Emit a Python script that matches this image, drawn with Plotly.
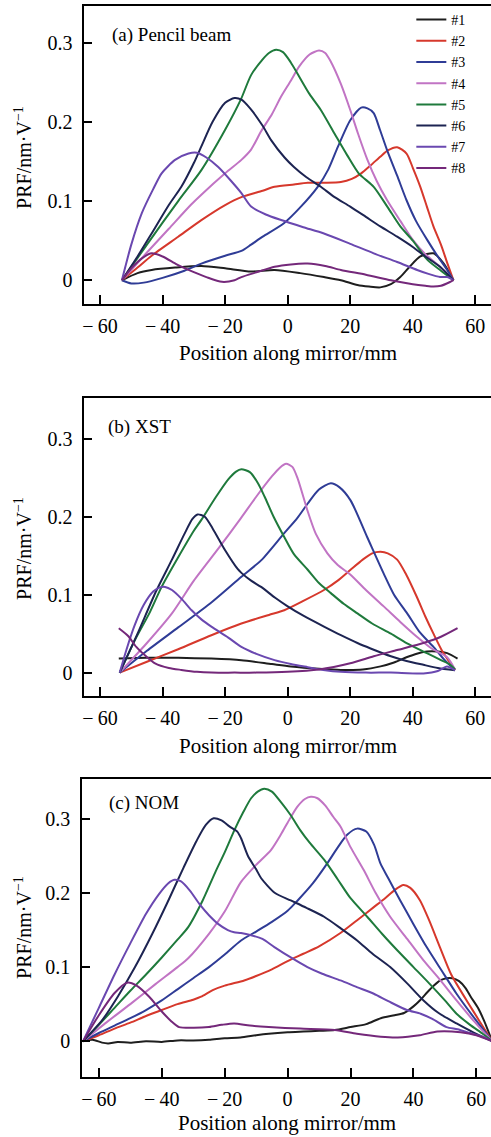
import plotly.graph_objects as go

W, H = 491, 1137

NAMES = ["#1", "#2", "#3", "#4", "#5", "#6", "#7", "#8"]
COLORS = ["#1e1e1e", "#d6382c", "#2f3c96", "#c174c4", "#1f7a3c", "#1d2452", "#6a48b0", "#74287a"]

X_TICKS = [-60, -40, -20, 0, 20, 40, 60]
X_TICKTEXT = ["\u2212\u200960", "\u2212\u200940", "\u2212\u200920", "0", "20", "40", "60"]
Y_TICKS = [0, 0.1, 0.2, 0.3]
Y_TICKTEXT = ["0", "0.1", "0.2", "0.3"]

PANEL_TITLES = ["(a) Pencil beam", "(b) XST", "(c) NOM"]
X_TITLE = "Position along mirror/mm"
Y_TITLE = "PRF/nm\u00b7V<sup>\u22121</sup>"

# ---------------- Panel (a) Pencil beam ----------------
A1_X = [-53, -48, -43.5, -36, -27.6, -20, -11.7, -4.2, 4, 11.6, 17, 22.3, 26, 29.6, 33, 36, 39, 42.4, 46.6, 49.9, 53]
A1_Y = [0, 0.009, 0.013, 0.016, 0.018, 0.015, 0.011, 0.013, 0.009, 0.004, 0.0, -0.006, -0.008, -0.009, -0.005, 0.004, 0.017, 0.03, 0.034, 0.021, 0]
A2_X = [-53, -48, -43.5, -35, -27.6, -20, -14.8, -8, -4.2, 2, 6.4, 12, 17, 20.5, 23.5, 26.5, 29.6, 32, 35, 38, 40, 42.4, 44.5, 46.6, 49, 51, 53]
A2_Y = [0, 0.016, 0.031, 0.055, 0.076, 0.095, 0.105, 0.113, 0.118, 0.121, 0.123, 0.123, 0.124, 0.128, 0.135, 0.145, 0.156, 0.164, 0.168, 0.16, 0.142, 0.118, 0.093, 0.068, 0.045, 0.022, 0]
A3_X = [-53, -50, -46, -40, -33, -27.6, -20, -14.8, -11.7, -8, -1.2, 4, 9.6, 13, 16, 20, 23.5, 25.5, 27.5, 29.5, 31.8, 35, 38, 41, 44.6, 48, 51, 53]
A3_Y = [0, -0.004, -0.003, 0.003, 0.012, 0.021, 0.031, 0.037, 0.045, 0.055, 0.072, 0.092, 0.118, 0.14, 0.168, 0.202, 0.218, 0.217, 0.211, 0.19, 0.164, 0.132, 0.101, 0.075, 0.051, 0.03, 0.013, 0]
A4_X = [-53, -45, -38, -31, -27.6, -20, -14.8, -11.7, -8.5, -5, -2.1, 1, 3.7, 7, 10, 12, 13.8, 17, 20, 22.5, 25.5, 28.5, 31.8, 36, 40, 44, 48.7, 53]
A4_Y = [0, 0.035, 0.065, 0.095, 0.108, 0.135, 0.152, 0.165, 0.188, 0.21, 0.232, 0.252, 0.27, 0.285, 0.29, 0.287, 0.276, 0.248, 0.215, 0.185, 0.152, 0.125, 0.101, 0.075, 0.051, 0.033, 0.017, 0]
A5_X = [-53, -45, -35, -27.6, -20, -15, -11.7, -8, -6, -3.7, -1.5, 1, 3.7, 7, 10.6, 15, 19, 22.7, 27.5, 32, 36, 40, 44.6, 49, 53]
A5_Y = [0, 0.045, 0.1, 0.139, 0.19, 0.228, 0.259, 0.279, 0.287, 0.291, 0.288, 0.275, 0.257, 0.235, 0.215, 0.185, 0.158, 0.135, 0.118, 0.092, 0.068, 0.05, 0.026, 0.012, 0]
A6_X = [-53, -48, -43.5, -38, -34, -30, -27.6, -24, -20, -17, -14.8, -12, -8, -5.3, -1, 2, 6, 10.6, 15, 20, 25, 29.6, 35, 40, 44, 48.7, 53]
A6_Y = [0, 0.03, 0.059, 0.095, 0.118, 0.148, 0.169, 0.2, 0.224, 0.23, 0.228, 0.217, 0.195, 0.177, 0.155, 0.143, 0.13, 0.118, 0.105, 0.093, 0.08, 0.068, 0.055, 0.042, 0.03, 0.017, 0]
A7_X = [-53, -50, -46.6, -43, -40.3, -36, -31.7, -29, -26, -22.2, -18, -14.8, -11.7, -7, -2.1, 5, 11.6, 20, 27.5, 35, 41.4, 45, 48.7, 51, 53]
A7_Y = [0, 0.045, 0.085, 0.115, 0.135, 0.152, 0.16, 0.161, 0.155, 0.143, 0.125, 0.11, 0.093, 0.083, 0.076, 0.067, 0.059, 0.046, 0.034, 0.023, 0.013, 0.008, 0.004, 0.004, 0]
A8_X = [-53, -50, -46.5, -43.5, -40, -35.5, -31.7, -26, -21, -17, -14.8, -10, -4.2, 1, 6.4, 12, 17, 25, 33, 40, 44, 46.6, 49, 52, 53]
A8_Y = [0, 0.015, 0.028, 0.034, 0.03, 0.02, 0.013, 0.004, -0.002, 0.0, 0.004, 0.01, 0.017, 0.02, 0.021, 0.018, 0.013, 0.007, 0.0, -0.005, -0.007, -0.008, -0.007, -0.002, 0]

# ---------------- Panel (b) XST ----------------
B1_X = [-54, -45, -35, -24.4, -14.8, -5, 1, 10, 17, 24, 29.7, 34, 38.2, 41, 44.5, 48, 51, 54.3]
B1_Y = [0.018, 0.019, 0.019, 0.018, 0.016, 0.011, 0.008, 0.005, 0.0035, 0.004, 0.008, 0.013, 0.02, 0.024, 0.027, 0.027, 0.025, 0.018]
B2_X = [-53.7, -45, -35, -24.4, -14.8, -6, -1.1, 5, 11.6, 16, 20.1, 24, 27, 29.7, 32, 35, 38, 41.3, 44, 46.6, 49.5, 52, 53.5]
B2_Y = [0, 0.014, 0.03, 0.048, 0.063, 0.074, 0.08, 0.092, 0.106, 0.118, 0.132, 0.145, 0.153, 0.155, 0.153, 0.145, 0.125, 0.097, 0.072, 0.05, 0.027, 0.012, 0.003]
B3_X = [-53.7, -45, -35, -24.4, -14.8, -8.5, -1.1, 3, 6.4, 10, 13.8, 16.5, 20.1, 25.4, 30.7, 34, 38.2, 42, 46.6, 50, 53]
B3_Y = [0, 0.028, 0.058, 0.09, 0.123, 0.144, 0.179, 0.198, 0.217, 0.235, 0.243, 0.238, 0.221, 0.174, 0.127, 0.1, 0.076, 0.053, 0.033, 0.017, 0.005]
B4_X = [-53.7, -45, -37, -30, -22, -15, -10, -5, -2.5, -0.5, 1.5, 3.2, 6.4, 9, 12.7, 16, 20, 25, 30.7, 36, 41.3, 46, 50.9, 53.5]
B4_Y = [0, 0.038, 0.076, 0.118, 0.16, 0.198, 0.226, 0.252, 0.263, 0.268, 0.264, 0.249, 0.207, 0.178, 0.153, 0.138, 0.126, 0.106, 0.085, 0.065, 0.046, 0.031, 0.02, 0.004]
B5_X = [-53.7, -48.8, -44, -40.3, -35, -30, -27.6, -23, -19, -16.5, -14.8, -12, -9.5, -7.4, -4.5, -1.1, 2, 6.4, 10, 13.8, 18, 22.3, 27, 33, 38, 44.5, 49, 52, 53.5]
B5_Y = [0, 0.042, 0.078, 0.11, 0.148, 0.182, 0.196, 0.225, 0.248, 0.258, 0.261, 0.257, 0.243, 0.226, 0.2, 0.174, 0.152, 0.132, 0.115, 0.102, 0.088, 0.076, 0.063, 0.05, 0.038, 0.025, 0.016, 0.01, 0.004]
B6_X = [-53.7, -48, -42, -37, -33, -30.5, -28.8, -26.5, -24, -20, -16, -14.8, -11.7, -8.5, -4, 0, 5, 11.6, 17, 22.3, 26.5, 33, 38, 43.4, 48, 53.5]
B6_Y = [0, 0.05, 0.105, 0.145, 0.178, 0.197, 0.203, 0.2, 0.185, 0.157, 0.133, 0.128, 0.118, 0.11, 0.096, 0.085, 0.073, 0.059, 0.048, 0.038, 0.031, 0.021, 0.015, 0.01, 0.006, 0.003]
B7_X = [-53.7, -51.5, -49, -46, -43, -41, -39.2, -37, -34, -30.7, -27.5, -24.4, -19, -14.8, -10, -4.2, 1, 6.4, 12, 17, 25, 33, 43.4, 48, 50.9, 53.5]
B7_Y = [0, 0.03, 0.06, 0.087, 0.104, 0.109, 0.11, 0.106, 0.095, 0.08, 0.068, 0.059, 0.045, 0.033, 0.024, 0.016, 0.011, 0.007, 0.003, 0.001, 0, 0, -0.001, 0.002, 0.008, 0.003]
B8_X = [-54, -51, -48.4, -45, -42.4, -38, -34, -29, -24.4, -17, -10, 0, 10, 20, 27.5, 35, 43.4, 49, 54.3]
B8_Y = [0.057, 0.047, 0.033, 0.02, 0.012, 0.006, 0.0035, 0.001, 0, 0, 0, 0.001, 0.004, 0.012, 0.021, 0.029, 0.038, 0.046, 0.057]

# ---------------- Panel (c) NOM ----------------
C1_X = [-65, -62, -59, -57, -54, -50, -45, -40, -35, -30, -25, -20, -15, -10, -6, 0, 5, 10, 15, 20, 25, 29.6, 34, 37, 40, 42.5, 44.4, 46.5, 48.5, 50.5, 52.4, 54.5, 56.5, 58.2, 60.5, 62.4, 65]
C1_Y = [0, 0.002, -0.002, -0.003, -0.001, -0.002, 0, -0.001, 0.001, 0.001, 0.002, 0.004, 0.005, 0.008, 0.01, 0.012, 0.013, 0.014, 0.015, 0.019, 0.023, 0.031, 0.035, 0.038, 0.047, 0.057, 0.066, 0.075, 0.082, 0.085, 0.085, 0.081, 0.072, 0.06, 0.045, 0.028, 0]
C2_X = [-65, -60, -55, -50, -45, -40, -35, -30, -27.5, -23.8, -20, -13.8, -10, -5, 0, 5, 10, 16.8, 22, 27.4, 31, 34, 36.8, 39, 42.1, 45, 48.4, 52, 56.9, 61, 65]
C2_Y = [0, 0.008, 0.017, 0.025, 0.034, 0.042, 0.05, 0.056, 0.06, 0.069, 0.075, 0.082, 0.088, 0.097, 0.108, 0.118, 0.128, 0.146, 0.163, 0.181, 0.193, 0.204, 0.211, 0.207, 0.19, 0.163, 0.127, 0.09, 0.055, 0.027, 0]
C3_X = [-65, -60, -55, -50, -45, -40, -35, -30, -25, -20, -14.8, -10, -5, 0, 3.2, 8, 12.6, 16, 19, 22.1, 25, 27.5, 29.5, 32, 35.8, 40, 44.2, 49, 53.7, 59, 65]
C3_Y = [0, 0.011, 0.021, 0.031, 0.042, 0.055, 0.07, 0.085, 0.1, 0.117, 0.136, 0.148, 0.161, 0.176, 0.19, 0.213, 0.24, 0.262, 0.279, 0.287, 0.283, 0.265, 0.24, 0.22, 0.19, 0.158, 0.127, 0.095, 0.064, 0.033, 0]
C4_X = [-65, -58, -50, -42, -35, -31.6, -25, -20, -14.8, -10, -5.3, -2, 0, 3, 5.5, 7.4, 9.5, 12, 14.5, 16.8, 20, 24.2, 28, 32.6, 38, 43.2, 48, 53.7, 59, 65]
C4_Y = [0, 0.024, 0.05, 0.077, 0.1, 0.112, 0.145, 0.175, 0.215, 0.238, 0.258, 0.28, 0.295, 0.316, 0.327, 0.33, 0.328, 0.318, 0.303, 0.29, 0.262, 0.231, 0.2, 0.168, 0.138, 0.109, 0.085, 0.055, 0.028, 0]
C5_X = [-65, -60, -55, -50, -45, -40, -35, -31.6, -27, -23, -20, -16.9, -14, -11.6, -9.5, -7.4, -5, -2, 1, 4, 7, 11.6, 16, 20, 25.3, 30, 35, 40, 45, 50, 53.7, 58, 62, 65]
C5_Y = [0, 0.022, 0.045, 0.068, 0.09, 0.113, 0.137, 0.154, 0.19, 0.228, 0.255, 0.285, 0.31, 0.328, 0.337, 0.341, 0.337, 0.322, 0.305, 0.285, 0.268, 0.245, 0.218, 0.193, 0.168, 0.145, 0.122, 0.1, 0.078, 0.055, 0.037, 0.022, 0.01, 0]
C6_X = [-65, -59, -54, -48.5, -43, -37.9, -33, -29, -26, -23.5, -21, -18.5, -16, -14.8, -12.6, -10, -8.4, -4, 1, 6, 11.6, 17, 22.1, 27, 32.6, 38, 43.2, 48, 53.7, 59, 65]
C6_Y = [0, 0.028, 0.06, 0.1, 0.145, 0.19, 0.235, 0.27, 0.292, 0.301, 0.298, 0.29, 0.283, 0.274, 0.25, 0.232, 0.22, 0.2, 0.19, 0.18, 0.168, 0.152, 0.136, 0.118, 0.1, 0.078, 0.055, 0.038, 0.024, 0.012, 0]
C7_X = [-65, -60, -55, -50, -45, -41, -38, -36, -34, -31, -28, -25, -22, -19, -17, -14.8, -11.6, -8, -4.2, 1, 6.3, 11, 16.8, 22, 27.4, 32, 37.9, 42.3, 46, 50.5, 54, 58, 62, 65]
C7_Y = [0, 0.045, 0.09, 0.132, 0.172, 0.198, 0.213, 0.218, 0.216, 0.203, 0.185, 0.17, 0.158, 0.15, 0.147, 0.146, 0.143, 0.138, 0.127, 0.113, 0.1, 0.091, 0.082, 0.073, 0.064, 0.054, 0.042, 0.037, 0.03, 0.019, 0.016, 0.011, 0.006, 0]
C8_X = [-65, -60, -55, -51, -48, -44, -40, -37, -34.5, -30, -25, -21, -17, -12, -6, 4, 15, 22, 29.6, 35, 42, 47.6, 55, 60, 65]
C8_Y = [0, 0.035, 0.065, 0.079, 0.075, 0.06, 0.04, 0.027, 0.019, 0.018, 0.019, 0.022, 0.024, 0.021, 0.019, 0.017, 0.015, 0.01, 0.006, 0.005, 0.008, 0.013, 0.012, 0.008, 0]

PANELS = [
    [(A1_X, A1_Y), (A2_X, A2_Y), (A3_X, A3_Y), (A4_X, A4_Y), (A5_X, A5_Y), (A6_X, A6_Y), (A7_X, A7_Y), (A8_X, A8_Y)],
    [(B1_X, B1_Y), (B2_X, B2_Y), (B3_X, B3_Y), (B4_X, B4_Y), (B5_X, B5_Y), (B6_X, B6_Y), (B7_X, B7_Y), (B8_X, B8_Y)],
    [(C1_X, C1_Y), (C2_X, C2_Y), (C3_X, C3_Y), (C4_X, C4_Y), (C5_X, C5_Y), (C6_X, C6_Y), (C7_X, C7_Y), (C8_X, C8_Y)],
]

X_RANGES = [[-65, 65], [-65, 65], [-65.3, 64.65]]
Y_RANGES = [[-0.03, 0.3463], [-0.03, 0.352], [-0.048, 0.354]]

# pixel layout (top, bottom, left) of each plot area
BOX = [(6, 304, 82.7), (398.3, 696, 82.7), (779, 1076.7, 80.5)]
XTITLE_Y = [353, 746, 1123]
YTITLE_Y = [157, 548, 927]
PANEL_LABEL_POS = [(108, 35), (104, 427), (105, 803)]

FONT = "Liberation Serif"

fig = go.Figure()

for p, series in enumerate(PANELS):
    suffix = "" if p == 0 else str(p + 1)
    for i, (xs, ys) in enumerate(series):
        fig.add_trace(go.Scatter(
            x=xs, y=ys, mode="lines", name=NAMES[i],
            line=dict(color=COLORS[i], width=2, shape="spline", smoothing=0.7),
            showlegend=(p == 0), xaxis="x" + suffix, yaxis="y" + suffix,
            hoverinfo="skip",
        ))

def fx(px):
    return px / W

def fy(py):
    return 1 - py / H

axis_common = dict(
    showline=True, linecolor="black", linewidth=1.6, showgrid=False, zeroline=False,
    ticks="inside", tickcolor="black", tickwidth=1.5,
    tickfont=dict(family=FONT, size=20, color="black"),
)

layout = dict(
    width=W, height=H, margin=dict(l=0, r=0, t=0, b=0),
    paper_bgcolor="white", plot_bgcolor="white",
    font=dict(family=FONT, color="black"),
    legend=dict(x=fx(411), y=fy(4), xanchor="left", yanchor="top",
                bgcolor="rgba(0,0,0,0)", borderwidth=0, tracegroupgap=0,
                itemwidth=30,
                font=dict(family=FONT, size=14, color="black")),
)

annotations = []
for p in range(3):
    top, bot, left = BOX[p]
    sx = "" if p == 0 else str(p + 1)
    layout["xaxis" + sx] = dict(
        axis_common, domain=[fx(left), 1.0], range=X_RANGES[p], anchor="y" + sx,
        mirror=True, tickvals=X_TICKS, ticktext=X_TICKTEXT, ticklen=9,
        ticklabelstandoff=3,
    )
    layout["yaxis" + sx] = dict(
        axis_common, domain=[fy(bot), fy(top)], range=Y_RANGES[p], anchor="x" + sx,
        mirror=False, tickvals=Y_TICKS, ticktext=Y_TICKTEXT, ticklen=8,
        ticklabelstandoff=6,
    )
    annotations.append(dict(
        text=X_TITLE, x=fx((left + W) / 2), y=fy(XTITLE_Y[p]), xref="paper", yref="paper",
        xanchor="center", yanchor="middle", showarrow=False,
        font=dict(family=FONT, size=21, color="black"),
    ))
    annotations.append(dict(
        text=Y_TITLE, x=fx(21), y=fy(YTITLE_Y[p]), xref="paper", yref="paper",
        xanchor="center", yanchor="middle", showarrow=False, textangle=-90,
        font=dict(family=FONT, size=20, color="black"),
    ))
    lx, ly = PANEL_LABEL_POS[p]
    annotations.append(dict(
        text=PANEL_TITLES[p], x=fx(lx), y=fy(ly), xref="paper", yref="paper",
        xanchor="left", yanchor="middle", showarrow=False,
        font=dict(family=FONT, size=19, color="black"),
    ))

layout["annotations"] = annotations
fig.update_layout(**layout)
fig.write_html("out.html")
